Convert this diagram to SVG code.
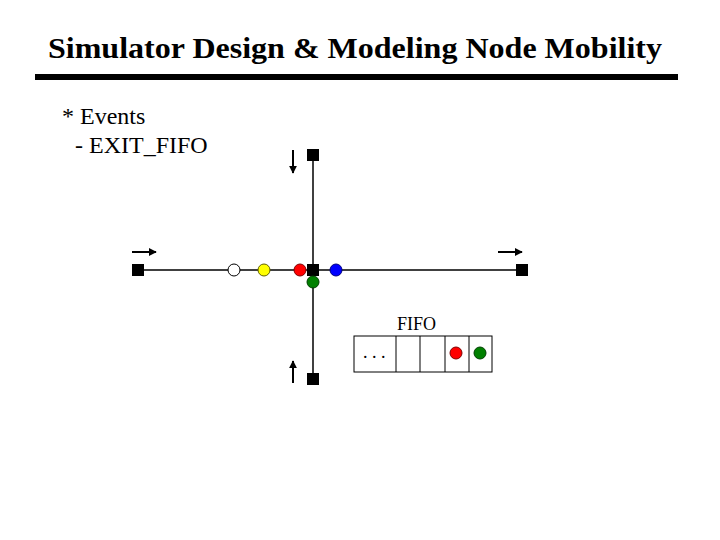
<svg xmlns="http://www.w3.org/2000/svg" width="720" height="540" viewBox="0 0 720 540">
<style>
.t{font-family:"Liberation Serif","Times New Roman",serif;fill:#000}
.sq{fill:#000}
.ln{stroke:#000;stroke-width:1.5;fill:none}
.ar{stroke:#000;stroke-width:2;fill:none;marker-end:url(#ah)}
.dot{stroke-width:1}
</style>
<defs>
<marker id="ah" viewBox="0 0 10 10" refX="9" refY="5" markerWidth="4" markerHeight="4" orient="auto" markerUnits="strokeWidth">
<path d="M0,0 L10,5 L0,10 z" fill="#000"/>
</marker>
</defs>
<rect width="720" height="540" fill="#fff"/>
<text class="t" x="48" y="58" font-size="30" font-weight="bold" textLength="614" lengthAdjust="spacingAndGlyphs">Simulator Design &amp; Modeling Node Mobility</text>
<rect x="35" y="74" width="643" height="6" fill="#000"/>
<text class="t" x="62" y="124" font-size="24">* Events</text>
<text class="t" x="75" y="153" font-size="24">- EXIT_FIFO</text>
<g id="connectors">
<line class="ln" x1="138" y1="270" x2="522" y2="270"/>
<line class="ln" x1="313" y1="155" x2="313" y2="379"/>
<line class="ar" x1="293" y1="150" x2="293" y2="173"/>
<line class="ar" x1="132" y1="252" x2="156" y2="252"/>
<line class="ar" x1="498" y1="252" x2="522" y2="252"/>
<line class="ar" x1="293" y1="383" x2="293" y2="361"/>
</g>
<g id="node-top"><rect class="sq" x="307" y="149" width="12" height="12"/></g>
<g id="node-left"><rect class="sq" x="132" y="264" width="12" height="12"/></g>
<g id="node-right"><rect class="sq" x="516" y="264" width="12" height="12"/></g>
<g id="node-bottom"><rect class="sq" x="307" y="373" width="12" height="12"/></g>
<g id="node-center"><rect class="sq" x="307" y="264" width="12" height="12"/></g>
<g id="dots">
<circle class="dot" cx="234" cy="270" r="6" fill="#fff" stroke="#000"/>
<circle class="dot" cx="264" cy="270" r="6" fill="#ffff00" stroke="#606000"/>
<circle class="dot" cx="300" cy="270" r="6" fill="#ff0000" stroke="#800000"/>
<circle class="dot" cx="336" cy="270" r="6" fill="#0000ff" stroke="#000080"/>
<circle class="dot" cx="313" cy="282" r="6" fill="#008000" stroke="#004000"/>
</g>
<g id="fifo">
<text class="t" x="397" y="330" font-size="18">FIFO</text>
<rect x="354" y="336" width="138" height="36" fill="#fff" stroke="#000" stroke-width="1"/>
<line x1="396" y1="336" x2="396" y2="372" stroke="#000"/>
<line x1="420" y1="336" x2="420" y2="372" stroke="#000"/>
<line x1="445" y1="336" x2="445" y2="372" stroke="#000"/>
<line x1="469" y1="336" x2="469" y2="372" stroke="#000"/>
<text class="t" x="363" y="358" font-size="18">. . .</text>
<circle class="dot" cx="456" cy="353" r="6" fill="#ff0000" stroke="#800000"/>
<circle class="dot" cx="480" cy="353" r="6" fill="#008000" stroke="#004000"/>
</g>
</svg>
